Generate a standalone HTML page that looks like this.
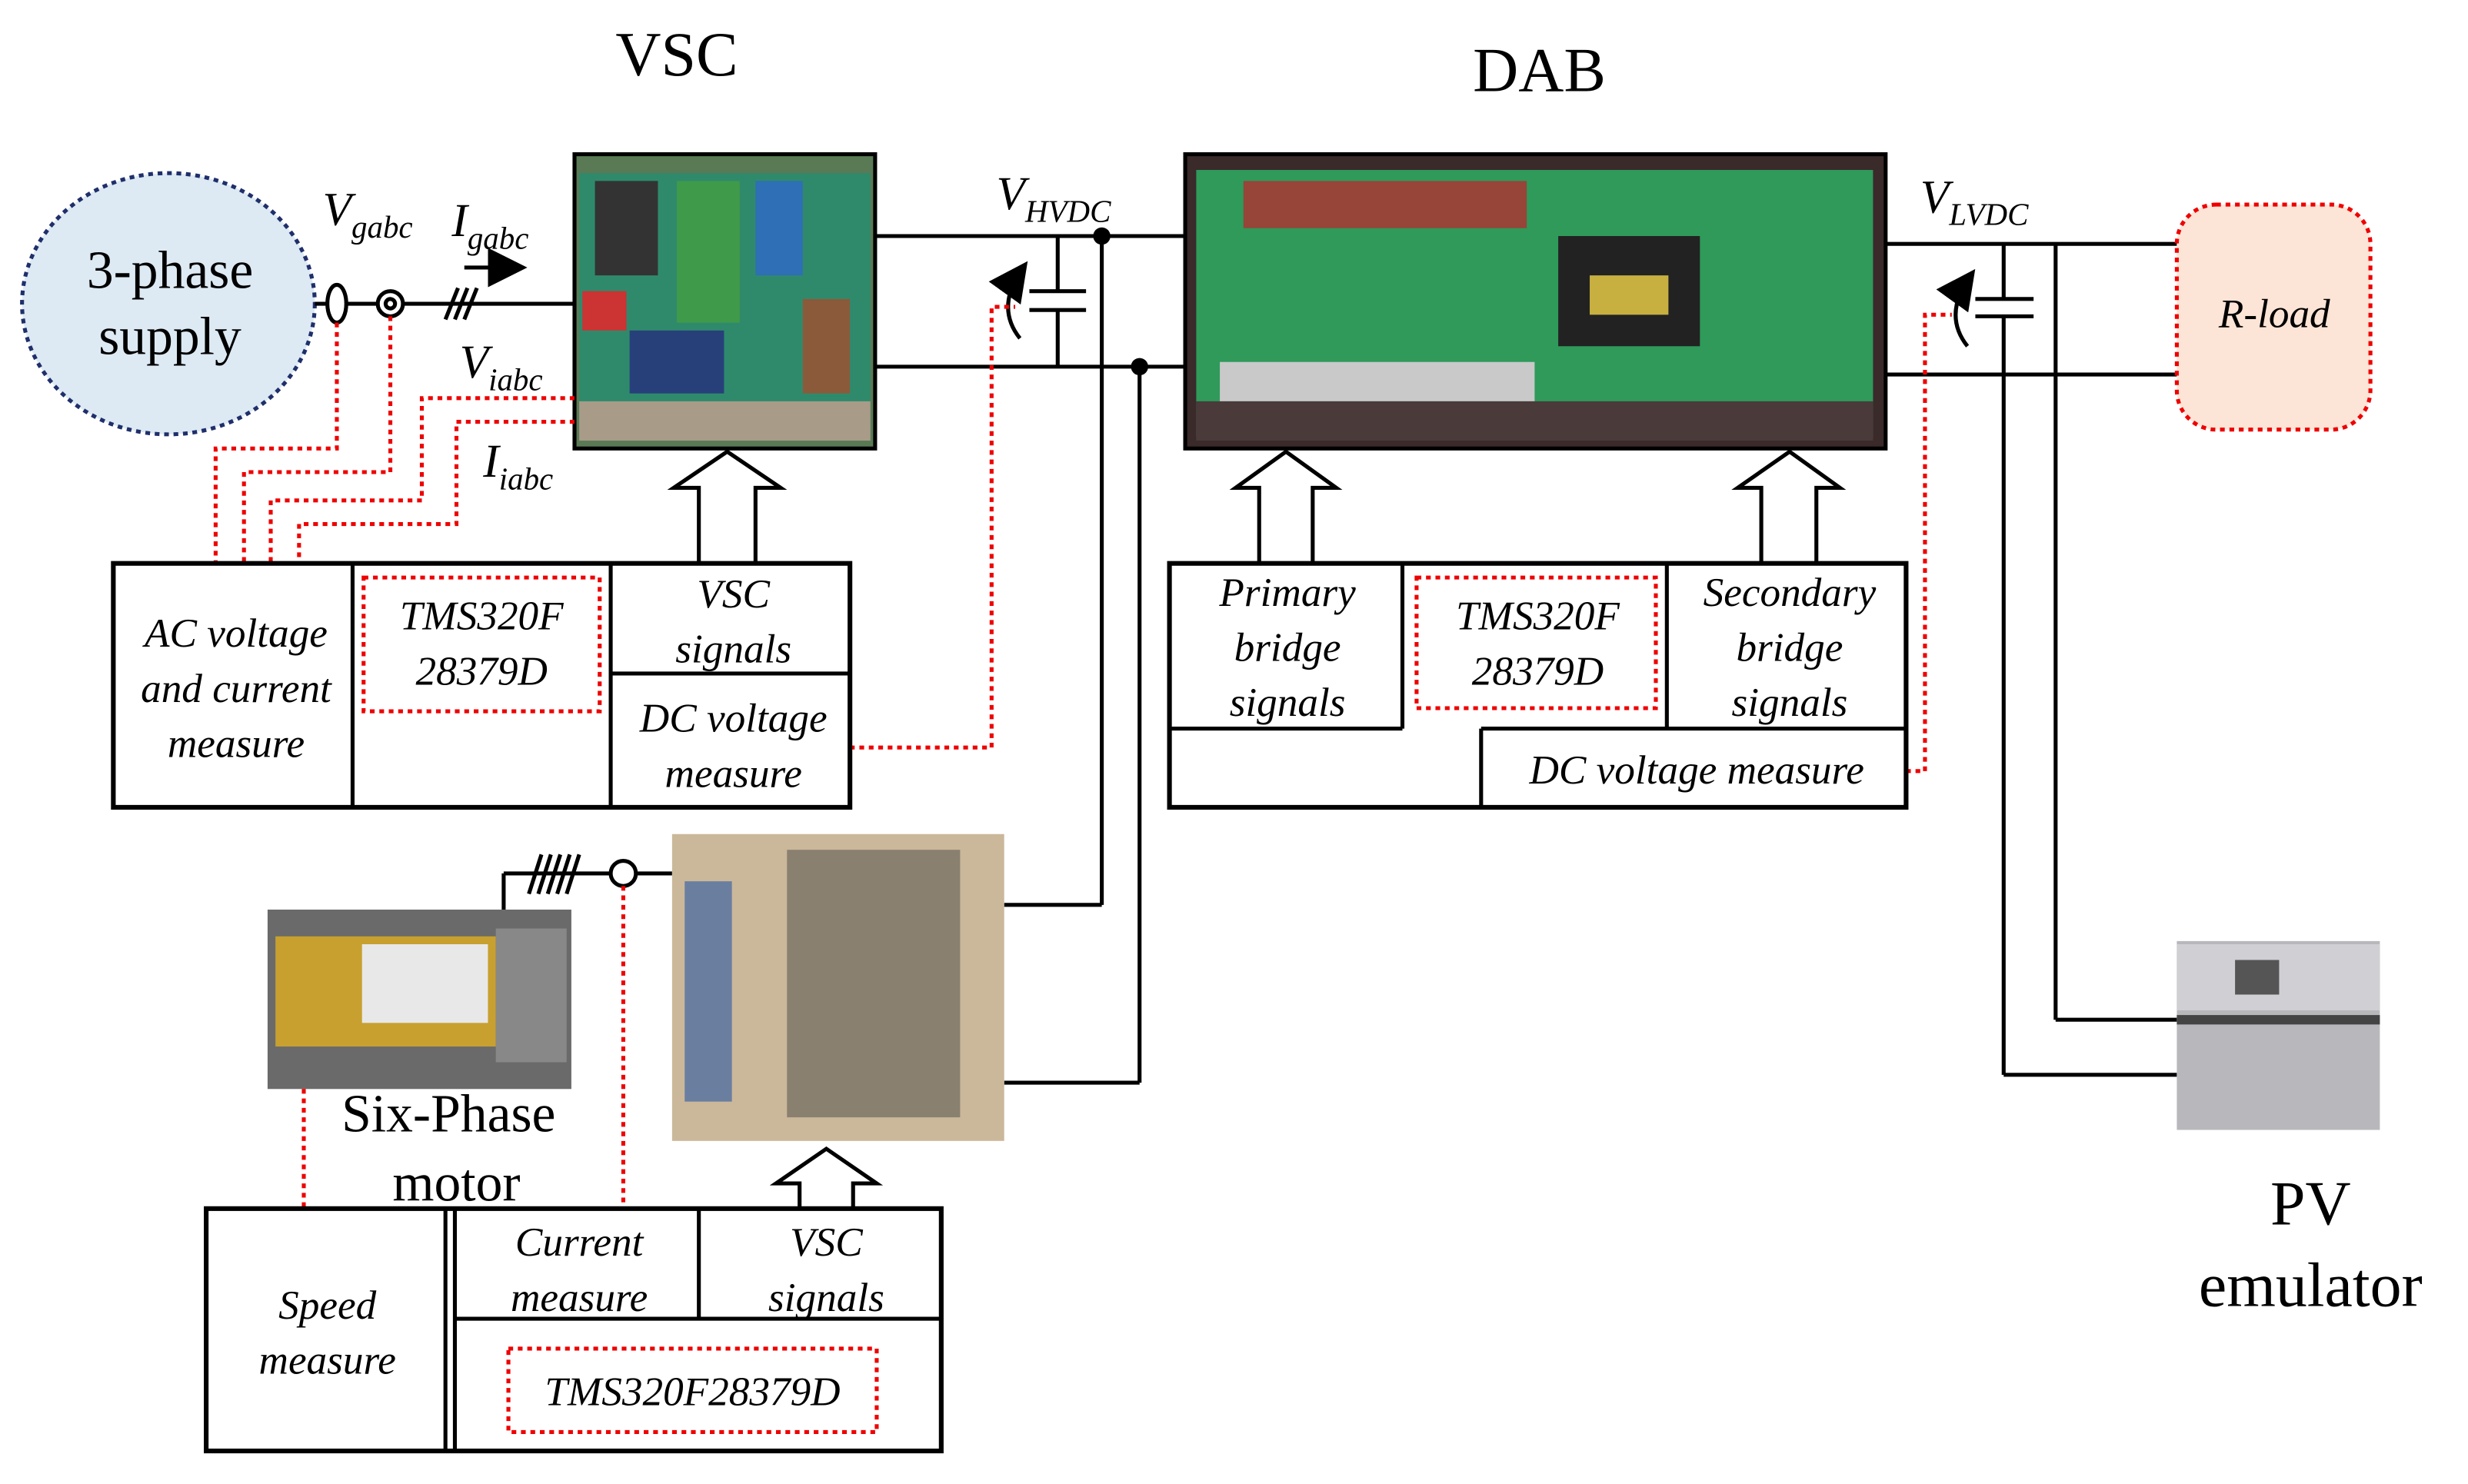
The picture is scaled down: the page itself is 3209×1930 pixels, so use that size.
<!DOCTYPE html>
<html><head><meta charset="utf-8"><style>
html,body{margin:0;padding:0;background:#fff;}
svg{display:block;}
text{font-family:"Liberation Serif",serif;fill:#000;}
.it{font-style:italic;}
</style></head><body>
<svg width="3209" height="1930" viewBox="0 0 1568 943" preserveAspectRatio="none" xmlns="http://www.w3.org/2000/svg">
<defs>
<marker id="ah" markerWidth="10" markerHeight="10" refX="8" refY="5" orient="auto"><path d="M0,0 L10,5 L0,10 Z" fill="#000"/></marker>
</defs>
<!-- titles -->
<text x="430" y="48" font-size="40" text-anchor="middle">VSC</text>
<text x="978" y="58" font-size="40" text-anchor="middle">DAB</text>

<!-- 3-phase supply -->
<ellipse cx="107" cy="193" rx="93" ry="83" fill="#dde9f3" stroke="#1f2f6b" stroke-width="2.5" stroke-dasharray="3,3"/>
<text x="108" y="183" font-size="34" text-anchor="middle">3-phase</text>
<text x="108" y="225" font-size="34" text-anchor="middle">supply</text>

<g stroke="#000" stroke-width="2.5" fill="none">
<line x1="200" y1="193" x2="365" y2="193"/>
<ellipse cx="214" cy="193" rx="6" ry="12" fill="#fff"/>
<circle cx="248" cy="193" r="8" fill="#fff"/>
<circle cx="248" cy="193" r="3" fill="#fff"/>
<line x1="283" y1="203" x2="291" y2="183"/><line x1="289" y1="203" x2="297" y2="183"/><line x1="295" y1="203" x2="303" y2="183"/>
<line x1="295" y1="170" x2="330" y2="170" marker-end="url(#ah)"/>
<!-- DC bus HV -->
<line x1="556" y1="150" x2="752" y2="150"/>
<line x1="556" y1="233" x2="752" y2="233"/>
<line x1="672" y1="150" x2="672" y2="185"/><line x1="672" y1="197" x2="672" y2="233"/>
<line x1="654" y1="185" x2="690" y2="185"/><line x1="654" y1="197" x2="690" y2="197"/>
<path d="M648,215 Q632,195 650,170" marker-end="url(#ah)"/>
<line x1="700" y1="150" x2="700" y2="575"/><line x1="700" y1="575" x2="638" y2="575"/>
<line x1="724" y1="233" x2="724" y2="688"/><line x1="724" y1="688" x2="638" y2="688"/>
<!-- LV bus -->
<line x1="1198" y1="155" x2="1383" y2="155"/>
<line x1="1198" y1="238" x2="1383" y2="238"/>
<line x1="1273" y1="155" x2="1273" y2="190"/><line x1="1273" y1="201" x2="1273" y2="683"/>
<line x1="1255" y1="190" x2="1292" y2="190"/><line x1="1255" y1="201" x2="1292" y2="201"/>
<path d="M1250,220 Q1234,200 1252,175" marker-end="url(#ah)"/>
<line x1="1273" y1="683" x2="1383" y2="683"/>
<line x1="1306" y1="155" x2="1306" y2="648"/><line x1="1306" y1="648" x2="1383" y2="648"/>
<!-- motor connection -->
<line x1="320" y1="578" x2="320" y2="555"/><line x1="320" y1="555" x2="427" y2="555"/>
<line x1="336" y1="568" x2="344" y2="543"/><line x1="342" y1="568" x2="350" y2="543"/><line x1="348" y1="568" x2="356" y2="543"/><line x1="354" y1="568" x2="362" y2="543"/><line x1="360" y1="568" x2="368" y2="543"/>
<circle cx="396" cy="555" r="8" fill="#fff"/>
</g>
<circle cx="700" cy="150" r="5.5" fill="#000"/>
<circle cx="724" cy="233" r="5.5" fill="#000"/>

<text x="205" y="143" font-size="30" class="it">V<tspan font-size="20" dy="8">gabc</tspan></text>
<text x="287" y="150" font-size="30" class="it">I<tspan font-size="20" dy="8">gabc</tspan></text>
<text x="292" y="240" font-size="30" class="it">V<tspan font-size="20" dy="8">iabc</tspan></text>
<text x="307" y="303" font-size="30" class="it">I<tspan font-size="20" dy="8">iabc</tspan></text>
<text x="633" y="133" font-size="30" class="it">V<tspan font-size="20" dy="8">HVDC</tspan></text>
<text x="1220" y="135" font-size="30" class="it">V<tspan font-size="20" dy="8">LVDC</tspan></text>

<!-- VSC photo -->
<rect x="365" y="98" width="191" height="187" fill="#5a7a55" stroke="#000" stroke-width="2.5"/>
<rect x="368" y="110" width="185" height="160" fill="#2f8a6c"/>
<rect x="378" y="115" width="40" height="60" fill="#333"/>
<rect x="430" y="115" width="40" height="90" fill="#3f9a4a"/>
<rect x="480" y="115" width="30" height="60" fill="#2e6fb5"/>
<rect x="370" y="185" width="28" height="25" fill="#c33"/>
<rect x="400" y="210" width="60" height="40" fill="#27407a"/>
<rect x="510" y="190" width="30" height="60" fill="#8a5a3a"/>
<rect x="368" y="255" width="185" height="25" fill="#a89b88"/>

<!-- DAB photo -->
<rect x="753" y="98" width="445" height="187" fill="#3a2a2a" stroke="#000" stroke-width="2.5"/>
<rect x="760" y="108" width="430" height="170" fill="#2f9a5a"/>
<rect x="790" y="115" width="180" height="30" fill="#b03030" opacity="0.8"/>
<rect x="990" y="150" width="90" height="70" fill="#222"/>
<rect x="1010" y="175" width="50" height="25" fill="#c8b040"/>
<rect x="775" y="230" width="200" height="25" fill="#c9c9c9"/>
<rect x="760" y="255" width="430" height="25" fill="#4a3a3a"/>

<!-- R-load -->
<rect x="1383" y="130" width="123" height="143" rx="25" fill="#fce4d6" stroke="#e00" stroke-width="2.5" stroke-dasharray="3,3"/>
<text x="1445" y="208" font-size="26" class="it" text-anchor="middle">R-load</text>

<!-- PV emulator -->
<rect x="1383" y="598" width="129" height="120" fill="#b8b8bc"/>
<rect x="1383" y="600" width="129" height="42" fill="#d0d0d4"/>
<rect x="1420" y="610" width="28" height="22" fill="#555"/>
<rect x="1383" y="645" width="129" height="6" fill="#444"/>
<text x="1468" y="778" font-size="40" text-anchor="middle">PV</text>
<text x="1468" y="830" font-size="40" text-anchor="middle">emulator</text>

<!-- motor & converter photos -->
<rect x="170" y="578" width="193" height="114" fill="#6a6a6a"/>
<rect x="175" y="595" width="140" height="70" fill="#c8a030"/>
<rect x="230" y="600" width="80" height="50" fill="#e8e8e8"/>
<rect x="315" y="590" width="45" height="85" fill="#888"/>
<rect x="427" y="530" width="211" height="195" fill="#cbb89a"/>
<rect x="500" y="540" width="110" height="170" fill="#8a8070"/>
<rect x="435" y="560" width="30" height="140" fill="#6a7ea0"/>
<text x="285" y="719" font-size="34" text-anchor="middle">Six-Phase</text>
<text x="290" y="763" font-size="34" text-anchor="middle">motor</text>

<!-- red dotted signal lines -->
<g stroke="#e00" stroke-width="2.5" fill="none" stroke-dasharray="3,3">
<polyline points="214,205 214,285 137,285 137,358"/>
<polyline points="248,201 248,300 155,300 155,358"/>
<polyline points="365,253 268,253 268,318 172,318 172,358"/>
<polyline points="365,268 290,268 290,333 190,333 190,358"/>
<polyline points="540,475 630,475 630,195 645,195"/>
<polyline points="1211,490 1223,490 1223,200 1240,200"/>
<polyline points="396,563 396,768"/>
<polyline points="193,692 193,768"/>
<rect x="231" y="367" width="150" height="85"/>
<rect x="900" y="367" width="152" height="83"/>
<rect x="323" y="857" width="234" height="53"/>
</g>

<!-- hollow arrows -->
<g stroke="#000" stroke-width="2.5" fill="#fff">
<path d="M444,358 V310 H428 L462,287 L496,310 H480 V358"/>
<path d="M800,358 V310 H785 L817,287 L849,310 H834 V358"/>
<path d="M1119,358 V310 H1104 L1137,287 L1169,310 H1154 V358"/>
<path d="M508,768 V752 H493 L525,730 L557,752 H542 V768"/>
</g>

<!-- blocks -->
<g stroke="#000" stroke-width="2.5" fill="none">
<rect x="72" y="358" width="468" height="155" stroke-width="3"/>
<line x1="224" y1="358" x2="224" y2="513"/>
<line x1="388" y1="358" x2="388" y2="513"/>
<line x1="388" y1="428" x2="540" y2="428"/>
<rect x="743" y="358" width="468" height="155" stroke-width="3"/>
<line x1="891" y1="358" x2="891" y2="463"/>
<line x1="743" y1="463" x2="891" y2="463"/>
<line x1="1059" y1="358" x2="1059" y2="463"/>
<line x1="941" y1="463" x2="1211" y2="463"/>
<line x1="941" y1="463" x2="941" y2="513"/>
<rect x="131" y="768" width="467" height="154" stroke-width="3"/>
<line x1="283" y1="768" x2="283" y2="922"/>
<line x1="289" y1="768" x2="289" y2="922"/>
<line x1="289" y1="838" x2="598" y2="838"/>
<line x1="444" y1="768" x2="444" y2="838"/>
</g>
<g font-size="26" class="it" text-anchor="middle">
<text x="150" y="411" class="it">AC voltage</text>
<text x="150" y="446" class="it">and current</text>
<text x="150" y="481" class="it">measure</text>
<text x="306" y="400" class="it">TMS320F</text>
<text x="306" y="435" class="it">28379D</text>
<text x="466" y="386" class="it">VSC</text>
<text x="466" y="421" class="it">signals</text>
<text x="466" y="465" class="it">DC voltage</text>
<text x="466" y="500" class="it">measure</text>
<text x="818" y="385" class="it">Primary</text>
<text x="818" y="420" class="it">bridge</text>
<text x="818" y="455" class="it">signals</text>
<text x="977" y="400" class="it">TMS320F</text>
<text x="977" y="435" class="it">28379D</text>
<text x="1137" y="385" class="it">Secondary</text>
<text x="1137" y="420" class="it">bridge</text>
<text x="1137" y="455" class="it">signals</text>
<text x="1078" y="498" class="it">DC voltage measure</text>
<text x="208" y="838" class="it">Speed</text>
<text x="208" y="873" class="it">measure</text>
<text x="368" y="798" class="it">Current</text>
<text x="368" y="833" class="it">measure</text>
<text x="525" y="798" class="it">VSC</text>
<text x="525" y="833" class="it">signals</text>
<text x="440" y="893" class="it">TMS320F28379D</text>
</g>
</svg>
</body></html>
